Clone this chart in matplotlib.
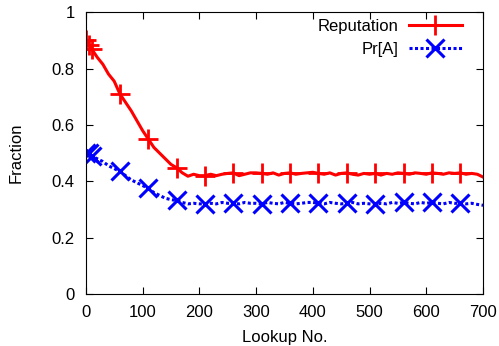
import matplotlib
matplotlib.use("Agg")
from matplotlib import pyplot as plt

plt.rcParams['font.family'] = ['Liberation Sans', 'DejaVu Sans']

# lookup numbers (sampled) and the two series
lookups = [0, 5, 10, 20, 30, 40, 50, 60, 70, 80, 90, 100, 110, 120, 130, 140, 150,
           160, 170, 180, 190, 200, 210, 220, 230, 240, 250, 260, 270, 280, 290, 300,
           310, 320, 330, 340, 350, 360, 370, 380, 390, 400, 410, 420, 430, 440, 450,
           460, 470, 480, 490, 500, 510, 520, 530, 540, 550, 560, 570, 580, 590, 600,
           610, 620, 630, 640, 650, 660, 670, 680, 690, 700]
reputation = [0.90, 0.885, 0.87, 0.84, 0.815, 0.78, 0.755, 0.71, 0.68, 0.65, 0.615,
              0.58, 0.55, 0.52, 0.50, 0.48, 0.46, 0.448, 0.43, 0.418, 0.425, 0.42,
              0.42, 0.425, 0.42, 0.425, 0.428, 0.43, 0.42, 0.425, 0.43, 0.43, 0.428,
              0.425, 0.43, 0.422, 0.428, 0.43, 0.425, 0.428, 0.43, 0.432, 0.428, 0.425,
              0.43, 0.422, 0.428, 0.43, 0.425, 0.422, 0.428, 0.425, 0.428, 0.422, 0.428,
              0.425, 0.43, 0.428, 0.425, 0.43, 0.428, 0.425, 0.43, 0.428, 0.425, 0.43,
              0.428, 0.43, 0.425, 0.428, 0.425, 0.415]
pr_a = [0.50, 0.50, 0.49, 0.48, 0.47, 0.455, 0.445, 0.435, 0.42, 0.405, 0.395, 0.385,
        0.375, 0.36, 0.35, 0.34, 0.335, 0.332, 0.325, 0.32, 0.322, 0.32, 0.32, 0.322,
        0.32, 0.325, 0.322, 0.322, 0.32, 0.325, 0.322, 0.322, 0.32, 0.325, 0.322,
        0.32, 0.325, 0.322, 0.32, 0.322, 0.325, 0.325, 0.322, 0.32, 0.325, 0.322,
        0.32, 0.322, 0.325, 0.32, 0.322, 0.32, 0.318, 0.322, 0.32, 0.325, 0.322,
        0.325, 0.322, 0.32, 0.325, 0.322, 0.325, 0.322, 0.32, 0.325, 0.322, 0.322,
        0.32, 0.322, 0.318, 0.315]
marker_idx = [0, 1, 2, 7, 12, 17, 22, 27, 32, 37, 42, 47, 52, 57, 62, 67]

fig = plt.figure(figsize=(4.99, 3.46), dpi=100)
ax = fig.add_axes([0.172, 0.15, 0.796, 0.815])

ax.plot(lookups, reputation, color='red', lw=2.2, marker='+', markersize=14,
        markeredgewidth=2, markevery=marker_idx, label='Reputation')
ax.plot(lookups, pr_a, color='blue', lw=2.2, ls=(0, (1, 0.8)), marker='x',
        markersize=13, markeredgewidth=2.2, markevery=marker_idx, label='Pr[A]')

ax.set_xlim(0, 700)
ax.set_ylim(0, 1)
ax.set_xticks(range(0, 701, 100))
ax.set_yticks([0, 0.2, 0.4, 0.6, 0.8, 1])
ax.set_yticklabels(['0', '0.2', '0.4', '0.6', '0.8', '1'])
ax.tick_params(direction='in', top=True, right=True, labelsize=12, length=5, pad=8)
ax.set_xlabel('Lookup No.', fontsize=12, labelpad=7)
ax.set_ylabel('Fraction', fontsize=12, labelpad=20)

ax.legend(loc='upper right', bbox_to_anchor=(0.947, 0.975), frameon=False,
          markerfirst=False, fontsize=12, handlelength=3.2, borderaxespad=0,
          labelspacing=0.45, handletextpad=0.6, borderpad=0)

fig.savefig('out.png', dpi=100)
